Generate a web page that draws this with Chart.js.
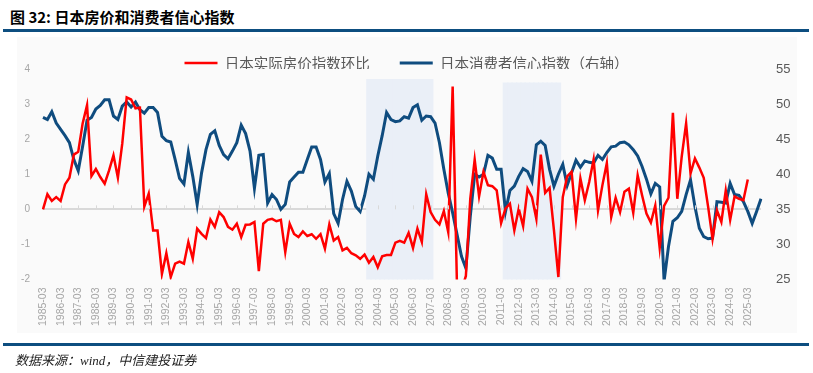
<!DOCTYPE html>
<html>
<head>
<meta charset="utf-8">
<script src="https://cdn.jsdelivr.net/npm/chart.js@4.4.1/dist/chart.umd.min.js"></script>
<style>
  html, body { margin: 0; padding: 0; background: #fff; }
  #page { position: relative; width: 813px; height: 373px; overflow: hidden; }
  .panel { position: absolute; left: 17px; top: 37px; width: 780px; height: 296px; background: #fafafa; }
  .title { position: absolute; left: 10px; top: 6px; font: bold 15px 'Noto Sans CJK SC', sans-serif; color: #000; }
  .rule { position: absolute; left: 3px; width: 806px; height: 3px; background: #0d4e80; }
  .source { position: absolute; left: 15px; top: 350px; font: italic 13px 'Liberation Serif', 'Noto Sans CJK SC', serif; color: #222; }
  #chartBox { position: absolute; left: 0; top: 0; width: 813px; height: 373px; }
</style>
</head>
<body>
<div id="page">
  <div class="panel"></div>
  <div class="title">图 32: 日本房价和消费者信心指数</div>
  <div class="rule" style="top:29px"></div>
  <div id="chartBox"><canvas id="chart" width="813" height="373"></canvas></div>
  <div class="rule" style="top:343px"></div>
  <div class="source">数据来源：wind，中信建投证券</div>
</div>
<script>
// quarterly, 1985-03 .. 2025-12
const quarters = [];
for (let y = 1985; y <= 2025; y++) {
    for (const m of ['03', '06', '09', '12']) quarters.push(y + '-' + m);
}

// 日本实际房价指数环比 (%), left axis, 1985-03 .. 2025-03
const housePriceQoQ = [
    0.00, 0.43, 0.24, 0.35, 0.24, 0.71, 0.90, 1.56, 1.64, 2.45,
    2.97, 0.95, 1.15, 0.92, 0.73, 1.11, 1.54, 0.90, 1.88, 3.19,
    3.13, 2.88, 2.90, 0.08, 0.45, -0.60, -0.60, -1.84, -1.25, -1.93,
    -1.55, -1.49, -1.55, -0.93, -1.41, -0.55, -0.70, -0.82, -0.29, -0.50,
    -0.08, -0.22, -0.50, -0.58, -0.41, -0.79, -0.44, -0.43, -0.36, -1.76,
    -0.41, -0.30, -0.27, -0.34, -0.30, -1.22, -0.41, -0.70, -0.79, -0.63,
    -0.76, -0.71, -0.84, -0.71, -1.12, -0.43, -0.89, -0.79, -1.17, -1.10,
    -1.25, -1.31, -1.41, -1.29, -1.52, -1.36, -1.65, -1.34, -1.30, -1.30,
    -0.95, -0.90, -0.95, -0.67, -1.10, -0.55, -0.93, 0.43, -0.08, -0.30,
    -0.43, -0.05, -0.65, 3.50, -2.30, -2.30, -1.90, 0.30, 1.42, 0.37,
    1.07, 0.69, 0.66, 0.54, -0.39, 0.03, 0.16, -0.60, 0.02, -0.48,
    0.59, 0.35, -0.27, 1.56, 0.47, 0.61, -0.60, -1.93, 0.35, 0.94,
    1.07, -0.27, 0.88, 0.26, 0.78, 1.42, -0.03, 0.69, 1.32, -0.22,
    0.33, -0.08, 0.50, 0.59, -0.10, 0.97, 0.40, -0.12, -0.38, 0.11,
    -1.10, 0.10, 0.33, 2.75, 0.30, 1.50, 2.45, 1.02, 1.45, 1.19,
    0.90, 0.07, -0.84, -0.03, -0.36, 0.54, -0.30, 0.37, 0.30, 0.26,
    0.85
];

// 日本消费者信心指数, right axis, 1985-03 .. 2025-12
const consumerConfidence = [
    48.1, 47.8, 48.9, 47.3, 46.4, 45.5, 44.5, 42.1, 40.5, 44.0,
    47.7, 48.1, 49.3, 49.8, 50.6, 50.6, 48.3, 47.8, 49.7, 50.3,
    49.6, 50.3, 49.2, 48.7, 49.5, 49.5, 48.8, 45.4, 44.8, 44.6,
    42.1, 39.4, 38.6, 43.1, 39.7, 35.7, 40.2, 43.5, 45.7, 46.2,
    44.1, 42.8, 42.2, 43.3, 44.5, 47.0, 45.8, 43.3, 38.0, 42.7,
    42.8, 35.9, 37.1, 36.4, 35.0, 35.7, 38.9, 39.6, 40.3, 40.3,
    42.1, 43.9, 43.9, 42.1, 38.9, 40.1, 34.4, 33.0, 36.4, 39.0,
    37.6, 35.4, 34.7, 36.9, 40.0, 39.3, 42.6, 45.5, 48.8, 47.8,
    47.5, 47.6, 48.2, 48.0, 49.5, 49.9, 47.7, 48.3, 48.2, 47.3,
    44.5, 40.7, 37.3, 34.5, 31.4, 28.3, 26.6, 34.0, 40.0, 39.6,
    40.0, 42.7, 42.3, 40.7, 40.7, 34.7, 37.7, 38.3, 39.7, 40.8,
    40.4, 39.0, 44.2, 44.7, 44.1, 40.7, 38.3, 40.0, 41.4, 38.4,
    40.2, 42.0, 41.0, 41.9, 41.7, 41.6, 42.7, 42.1, 43.1, 43.9,
    44.0, 44.5, 44.6, 44.2, 43.5, 42.6, 41.1, 39.3, 37.2, 38.7,
    38.2, 24.8, 29.7, 33.3, 33.8, 34.7, 37.1, 39.2, 35.4, 32.3,
    31.1, 30.8, 30.9, 36.1, 36.0, 35.9, 38.7, 37.1, 37.0, 36.1,
    34.7, 33.0, 34.7, 36.5
];

// shaded periods (left-axis floor/top)
const shadeRanges = [['2003-09', '2007-03'], ['2011-06', '2014-06']];
const shadeTops = [3.7, 3.6];
const shadeFloor = -2;

const leftRange = { min: -2, max: 4, step: 1 };
const rightRange = { min: 25, max: 55, step: 5 };

const shadeData = quarters.map(() => null);
shadeRanges.forEach(([from, to], k) => {
    for (let i = quarters.indexOf(from); i <= quarters.indexOf(to); i++) {
        shadeData[i] = [shadeFloor, shadeTops[k]];
    }
});

// legend sits partly over the plot, so shrink the space it reserves
const legendShift = {
    id: 'legendShift',
    beforeLayout(chart) {
        const legend = chart.legend;
        if (!legend || legend._shifted) return;
        const fit = legend.fit;
        legend.fit = function () { fit.call(this); this.height -= 11.25; };
        legend._shifted = true;
    }
};

// small year marks on the zero line
const axisMarks = {
    id: 'axisMarks',
    afterDatasetsDraw(chart) {
        const { ctx, scales: { x, y } } = chart;
        const y0 = y.getPixelForValue(0);
        ctx.save();
        ctx.strokeStyle = '#d9d9d9';
        ctx.lineWidth = 1;
        for (let i = 4; i < quarters.length; i += 4) {
            const px = Math.round(x.getPixelForValue(i)) + 0.5;
            ctx.beginPath();
            ctx.moveTo(px, y0 - 4);
            ctx.lineTo(px, y0);
            ctx.stroke();
        }
        ctx.restore();
    }
};

new Chart(document.getElementById('chart'), {
    type: 'line',
    data: {
        labels: quarters,
        datasets: [{
            label: '日本实际房价指数环比',
            data: housePriceQoQ,
            borderColor: '#ff0000',
            backgroundColor: '#ff0000',
            borderWidth: 2.5,
            pointRadius: 0,
            tension: 0,
            yAxisID: 'y',
            order: 1
        }, {
            label: '日本消费者信心指数（右轴）',
            data: consumerConfidence,
            borderColor: '#0f4c7f',
            backgroundColor: '#0f4c7f',
            borderWidth: 3,
            pointRadius: 0,
            tension: 0,
            yAxisID: 'y1',
            order: 2
        }, {
            type: 'bar',
            label: 'shade',
            data: shadeData,
            backgroundColor: '#eaeff7',
            borderWidth: 0,
            inflateAmount: 0.6,
            barPercentage: 1,
            categoryPercentage: 1,
            yAxisID: 'y',
            order: 3
        }]
    },
    options: {
        responsive: false,
        animation: false,
        layout: { padding: { top: 25.75, bottom: 0, left: 0, right: 0 } },
        font: { family: "'Liberation Sans', 'Noto Sans CJK SC', sans-serif" },
        plugins: {
            legend: {
                position: 'top',
                labels: {
                    usePointStyle: true,
                    pointStyle: 'line',
                    pointStyleWidth: 33,
                    padding: 30,
                    color: '#595959',
                    font: { size: 14.5, family: "'Noto Sans CJK SC', sans-serif" },
                    filter: item => item.datasetIndex < 2
                }
            },
            tooltip: { enabled: false }
        },
        scales: {
            x: {
                offset: false,
                grid: { display: false, drawTicks: false, offset: false },
                border: { display: false },
                ticks: {
                    autoSkip: false,
                    maxRotation: 90,
                    minRotation: 90,
                    padding: 8,
                    color: '#a6a6a6',
                    font: { size: 10.5, family: "'Liberation Sans', sans-serif" },
                    callback: (v, i) => (i % 4 === 0 ? quarters[i] : '')
                },
                afterFit: s => { s.height = 93.5; }
            },
            y: {
                position: 'left',
                min: leftRange.min,
                max: leftRange.max,
                ticks: { stepSize: leftRange.step, padding: 13, color: '#a6a6a6', font: { size: 10, family: "'Liberation Sans', sans-serif" } },
                grid: {
                    drawTicks: false,
                    lineWidth: 2,
                    color: c => (c.tick && c.tick.value === 0 ? '#d9d9d9' : 'rgba(0,0,0,0)')
                },
                border: { display: false },
                afterFit: s => { s.width = 43; }
            },
            y1: {
                position: 'right',
                min: rightRange.min,
                max: rightRange.max,
                ticks: { stepSize: rightRange.step, padding: 15, color: '#595959', font: { size: 13, family: "'Liberation Sans', sans-serif" } },
                grid: { display: false, drawTicks: false },
                border: { display: false },
                afterFit: s => { s.width = 52; }
            }
        }
    },
    plugins: [legendShift, axisMarks]
});
</script>
</body>
</html>
